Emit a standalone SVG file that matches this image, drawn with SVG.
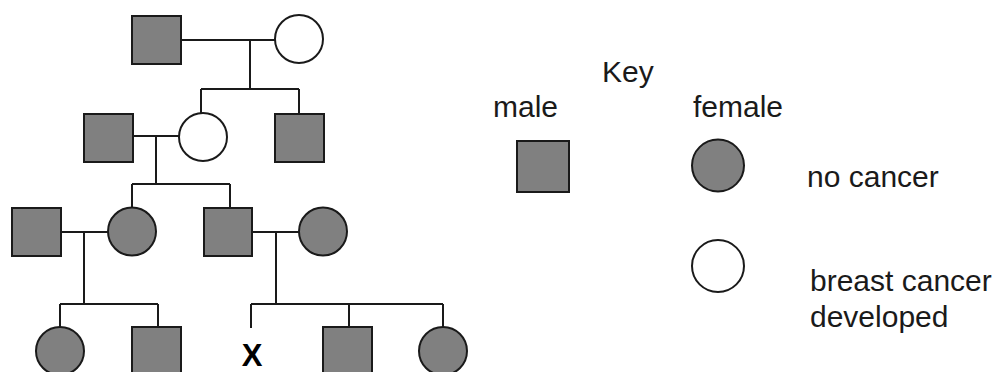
<svg xmlns="http://www.w3.org/2000/svg" width="1003" height="372" viewBox="0 0 1003 372">
<style>
.m{fill:#808080;stroke:#1a1a1a;stroke-width:2}
.f{fill:#808080;stroke:#1a1a1a;stroke-width:2}
.a{fill:#ffffff;stroke:#1a1a1a;stroke-width:2}
.c{fill:none;stroke:#1a1a1a;stroke-width:2}
.t{font-family:"Liberation Sans",Arial,sans-serif;font-size:30px;fill:#1a1a1a}
.x{font-family:"Liberation Sans",Arial,sans-serif;font-size:31px;font-weight:bold;fill:#000}
</style>
<rect width="1003" height="372" fill="#fff"/>
<g id="connectors">
<path class="c" d="M181,40H275M250,40V89M201,89H299M201,89V113M299,89V114"/>
<path class="c" d="M133,136H179M156,136V184M132,184H230M132,184V207M230,184V208"/>
<path class="c" d="M61,232H108M84,232V304M60,304H158M60,304V327M158,304V327"/>
<path class="c" d="M252,232H299M276,232V304M251,304H443M251,304V328M349,304V327M443,304V327"/>
</g>
<g id="g1-male"><rect class="m" x="132" y="16" width="49" height="48"/></g>
<g id="g1-female"><circle class="a" cx="299" cy="39" r="24"/></g>
<g id="g2-male-spouse"><rect class="m" x="84" y="114" width="49" height="48"/></g>
<g id="g2-female"><circle class="a" cx="203" cy="137" r="24"/></g>
<g id="g2-male"><rect class="m" x="275" y="114" width="49" height="48"/></g>
<g id="g3-male-spouse"><rect class="m" x="12" y="208" width="49" height="48"/></g>
<g id="g3-female"><circle class="f" cx="132" cy="231.5" r="24"/></g>
<g id="g3-male"><rect class="m" x="204" y="208" width="48" height="48"/></g>
<g id="g3-female-spouse"><circle class="f" cx="323" cy="231.5" r="24"/></g>
<g id="g4-female1"><circle class="f" cx="60" cy="351" r="24"/></g>
<g id="g4-male1"><rect class="m" x="132" y="327" width="49" height="48"/></g>
<g id="g4-x"><text class="x" x="252" y="366" text-anchor="middle">X</text></g>
<g id="g4-male2"><rect class="m" x="323" y="327" width="49" height="48"/></g>
<g id="g4-female2"><circle class="f" cx="443" cy="351" r="24"/></g>
<g id="key">
<text class="t" x="602" y="82">Key</text>
<text class="t" x="493" y="117">male</text>
<text class="t" x="693" y="117">female</text>
<rect class="m" x="517" y="141" width="52" height="51"/>
<circle class="f" cx="718" cy="165.5" r="26"/>
<text class="t" x="807" y="187">no cancer</text>
<circle class="a" cx="718" cy="266" r="26"/>
<text class="t" x="810" y="291">breast cancer</text>
<text class="t" x="810" y="327">developed</text>
</g>
</svg>
